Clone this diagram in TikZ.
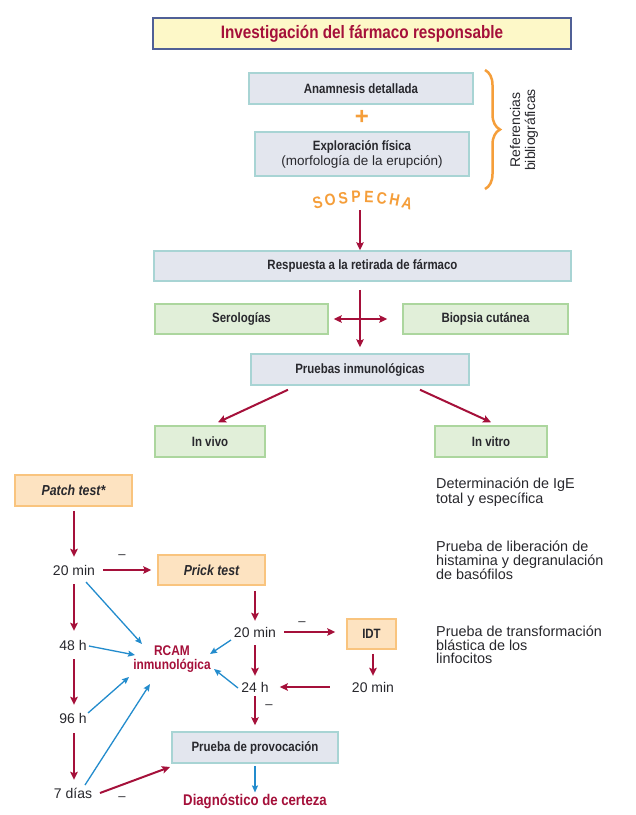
\documentclass[tikz,border=0pt]{standalone}
\usepackage{fontspec}
\setmainfont{Liberation Sans}
\newfontfamily\cf[FakeStretch=0.85]{Liberation Sans}
\usetikzlibrary{arrows.meta,calc,decorations.pathreplacing}
\definecolor{dred}{RGB}{165,16,58}
\definecolor{orng}{RGB}{245,158,58}
\definecolor{blu}{RGB}{35,140,205}
\definecolor{gfill}{RGB}{227,230,238}
\definecolor{tealb}{RGB}{168,212,212}
\definecolor{grfill}{RGB}{225,239,217}
\definecolor{grb}{RGB}{172,214,158}
\definecolor{pfill}{RGB}{253,227,193}
\definecolor{pb}{RGB}{249,196,126}
\definecolor{yfill}{RGB}{253,248,200}
\definecolor{yb}{RGB}{80,96,150}
\definecolor{txt}{RGB}{40,40,45}
\tikzset{
  box/.style={draw, line width=1.5pt, inner sep=0pt, text=txt, align=center,
    font=\cf\bfseries\fontsize{13.5}{15}\selectfont},
  greybox/.style={box, fill=gfill, draw=tealb},
  greenbox/.style={box, fill=grfill, draw=grb},
  peachbox/.style={box, fill=pfill, draw=pb},
  rarr/.style={draw=dred, line width=2pt, -{Stealth[length=8pt,width=7.5pt,inset=1.5pt]}},
  barr/.style={draw=blu, line width=1.3pt, -{Stealth[length=7pt,width=6pt,inset=1pt]}},
  plain/.style={font=\fontsize{14}{14}\selectfont, text=txt, inner sep=0pt, minimum height=14pt},
  desc/.style={font=\fontsize{14.4}{13.5}\selectfont, text=txt, inner sep=0pt, align=left, anchor=north west},
  minus/.style={font=\fontsize{13}{13}\selectfont, text=txt, inner sep=0pt},
  redtxt/.style={font=\cf\bfseries\fontsize{14}{14}\selectfont, text=dred, inner sep=0pt, align=center},
  itbox/.style={peachbox, font=\cf\bfseries\itshape\fontsize{14.5}{15}\selectfont},
  sosp/.style={text=orng, font=\cf\bfseries\fontsize{16.5}{16.5}\selectfont, inner sep=0pt}
}
\begin{document}
\begin{tikzpicture}[x=1pt,y=-1pt]
\useasboundingbox (0,0) rectangle (636,815);
\fill[white] (0,0) rectangle (636,815);

% title
\node[box, fill=yfill, draw=yb, minimum width=418pt, minimum height=31pt, text=dred,
  font=\cf\bfseries\fontsize{18}{20}\selectfont] (title) at (362,33.5) {Investigación del fármaco responsable};

\node[greybox, minimum width=224pt, minimum height=31pt] (anam) at (361,88.5) {Anamnesis detallada};
\node[text=orng, font=\bfseries\fontsize{24}{24}\selectfont, inner sep=0pt] (plus) at (362,117) {+};
\node[greybox, minimum width=214pt, minimum height=44pt] (expl) at (362,154)
  {Exploración física\\{\normalfont\fontsize{13.5}{15}\selectfont(morfología de la erupción)}};

% brace
\coordinate (bt) at (485,70);
\coordinate (bb) at (485,189);
\draw[orng, line width=2.5pt, decorate, decoration={brace, amplitude=15pt}] (bt) -- (bb);
\node[rotate=90, align=center, text=txt, font=\fontsize{14}{15}\selectfont, inner sep=0pt] (refs) at (524,130)
  {Referencias\\bibliográficas};

% SOSPECHA
\foreach \l [count=\i] in {S,O,S,P,E,C,H,A}{
  \pgfmathsetmacro\ph{-15.3+(\i-1)*30.6/7}
  \node[sosp, rotate=-\ph] (sp\i) at ({362.5+170*sin(\ph)},{367-170*cos(\ph)}) {\l};
}
\coordinate (sosp) at (360,210);

\node[greybox, minimum width=417pt, minimum height=30pt] (resp) at (362.5,266) {Respuesta a la retirada de fármaco};
\node[greenbox, minimum width=173pt, minimum height=30pt] (sero) at (241.5,319) {Serologías};
\node[greenbox, minimum width=165pt, minimum height=30pt] (biop) at (485.5,319) {Biopsia cutánea};
\node[greybox, minimum width=218pt, minimum height=31pt] (pru) at (360,369.5) {Pruebas inmunológicas};
\node[greenbox, minimum width=110pt, minimum height=31pt] (invivo) at (210,441.5) {In vivo};
\node[greenbox, minimum width=112pt, minimum height=31pt] (invitro) at (491,441.5) {In vitro};

\draw[rarr] (sosp) -- (sosp |- resp.north);
\draw[rarr, shorten <=8pt, shorten >=6pt] (resp.south -| 360,0) -- (pru.north -| 360,0);
\draw[rarr, {Stealth[length=8pt,width=7.5pt,inset=1.5pt]}-{Stealth[length=8pt,width=7.5pt,inset=1.5pt]},
  shorten <=5pt, shorten >=15pt] (sero.east) -- (biop.west);
\draw[rarr] ($(pru.south)+(-72,4)$) -- ($(invivo.north)+(8,-3)$);
\draw[rarr] ($(pru.south)+(60,4)$) -- ($(invitro.north)+(0,-3)$);

% descriptions
\node[desc] (d1) at (436,478) {Determinación de IgE\\total y específica};
\node[desc] (d2) at (436,541) {Prueba de liberación de\\histamina y degranulación\\de basófilos};
\node[desc] (d3) at (436,626) {Prueba de transformación\\blástica de los\\linfocitos};

% lower part
\node[itbox, minimum width=117pt, minimum height=31pt] (patch) at (73.5,490.5) {Patch test*};
\node[plain] (m20a) at (74,570) {20 min};
\node[itbox, minimum width=107pt, minimum height=30pt] (prick) at (211.5,570) {Prick test};
\node[plain] (h48) at (73,645) {48 h};
\node[plain] (h96) at (73,718) {96 h};
\node[plain] (d7) at (73,793) {7 días};
\node[redtxt] (rcam) at (172,659) {RCAM\\inmunológica};
\node[plain] (m20b) at (255,632) {20 min};
\node[peachbox, minimum width=49pt, minimum height=30pt] (idt) at (371.5,634) {IDT};
\node[plain] (m20c) at (373,687) {20 min};
\node[plain] (h24) at (255,687) {24 h};
\node[greybox, minimum width=166pt, minimum height=31pt] (prov) at (255,747.5) {Prueba de provocación};
\node[redtxt, font=\cf\bfseries\fontsize{15.5}{15}\selectfont] (diag) at (255,801) {Diagnóstico de certeza};

\draw[rarr, shorten <=4pt, shorten >=6pt] (patch.south -| m20a) -- (m20a.north);
\draw[rarr, shorten <=8pt, shorten >=6pt] (m20a.east) -- (prick.west);
\draw[rarr, shorten <=7pt, shorten >=7pt] (m20a.south) -- (h48.north -| m20a);
\draw[rarr, shorten <=7pt, shorten >=6pt] (h48.south -| m20a) -- (h96.north -| m20a);
\draw[rarr, shorten <=8pt, shorten >=6pt] (h96.south -| m20a) -- (d7.north -| m20a);
\draw[rarr, shorten <=5pt, shorten >=4pt] (prick.south -| m20b) -- (m20b.north);
\draw[rarr, shorten <=8pt, shorten >=11pt] (m20b.east) -- (idt.west |- m20b);
\draw[rarr, shorten <=4pt, shorten >=4pt] (idt.south -| m20c) -- (m20c.north);
\draw[rarr, shorten <=22pt, shorten >=11pt] (m20c.west) -- (h24.east);
\draw[rarr, shorten <=6pt, shorten >=4pt] (m20b.south) -- (h24.north);
\draw[rarr, shorten <=2pt, shorten >=6pt] (h24.south) -- (prov.north);
\draw[barr, shorten <=2pt, shorten >=1pt] (prov.south) -- (diag.north);
\draw[rarr] ($(d7)+(27,0)$) -- ($(prov)+(-85,19.5)$);

\draw[barr] ($(m20a)+(12,12)$) -- ($(rcam)+(-30,-15)$);
\draw[barr] ($(h48)+(16,1)$) -- ($(rcam)+(-37,-4)$);
\draw[barr] ($(h96)+(15,-5)$) -- ($(rcam)+(-43,18)$);
\draw[barr] ($(d7)+(12,-8)$) -- ($(rcam)+(-22,25)$);
\draw[barr] ($(m20b)+(-24,8)$) -- ($(rcam)+(38,-5)$);
\draw[barr] ($(h24)+(-17,1)$) -- ($(rcam)+(42,10)$);

% minus signs
\node[minus] (mi1) at (122,557) {–};
\node[minus] (mi2) at (302,624) {–};
\node[minus] (mi3) at (269,707) {–};
\node[minus] (mi4) at (122,799) {–};
\end{tikzpicture}
\end{document}
